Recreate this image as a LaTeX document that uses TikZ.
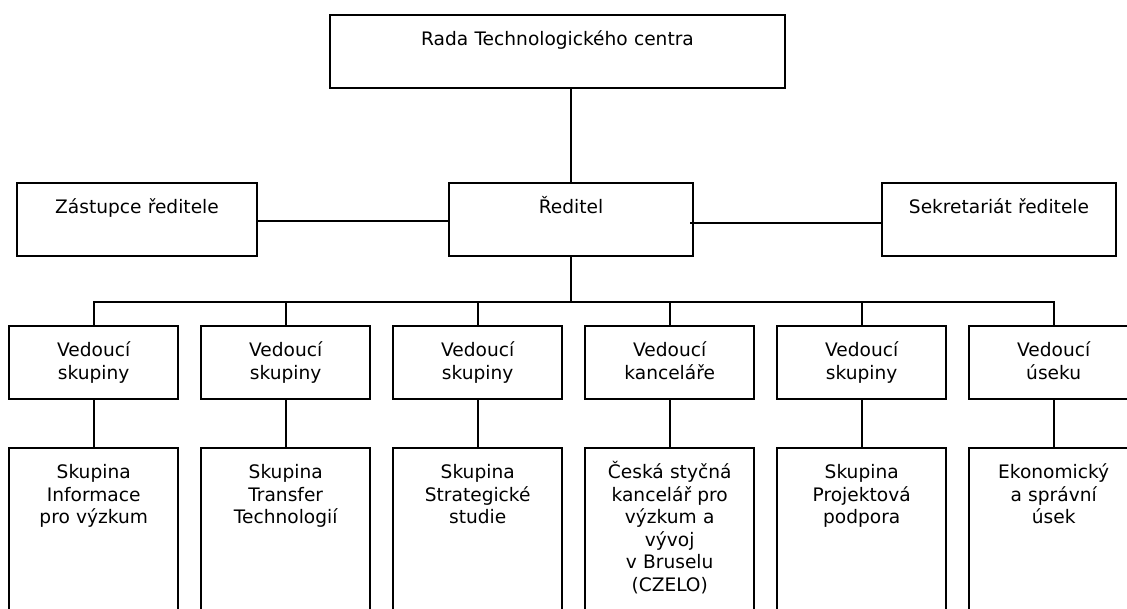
\documentclass[tikz,border=0pt]{standalone}
\usepackage{fontspec}
\setmainfont{DejaVu Sans}
\usetikzlibrary{positioning}
\usetikzlibrary{matrix}

\tikzset{
  unit/.style={draw, line width=2pt, inner sep=0pt, align=center,
    text height=30.5pt, text depth=42.5pt,
    font=\fontsize{18.6pt}{22.5pt}\selectfont},
  lowunit/.style={unit, text depth=200pt},
  link/.style={line width=1.6pt}
}

\begin{document}
\begin{tikzpicture}[x=1pt,y=-1pt]
\path[use as bounding box, clip] (0,0) rectangle (1127,609);
\node [unit, text width=455pt, anchor=north] (rada) at (557.5,14) {Rada Technologického centra};
\node [unit, text width=240pt, anchor=north] (zastupce) at (137,182) {Zástupce ředitele};
\node [unit, text width=244pt, anchor=north] (reditel) at (571,182) {Ředitel};
\node [unit, text width=234pt, anchor=north] (sekretariat) at (999,182) {Sekretariát ředitele};
\coordinate (bus) at (0,302);
\matrix [matrix of nodes, anchor=north west, inner sep=0pt, row sep=47pt,
nodes={unit, text width=169pt},
column sep={192pt,between origins}] at (8,325)
{
|(v1)|{Vedoucí\\skupiny} & |(v2)|{Vedoucí\\skupiny} & |(v3)|{Vedoucí\\skupiny} & |(v4)|{Vedoucí\\kanceláře} & |(v5)|{Vedoucí\\skupiny} & |(v6)|{Vedoucí\\úseku} \\
|[lowunit](s1)|{Skupina\\Informace\\pro výzkum} & |[lowunit](s2)|{Skupina\\Transfer\\Technologií} & |[lowunit](s3)|{Skupina\\Strategické\\studie} & |[lowunit](s4)|{Česká styčná\\kancelář pro\\výzkum a\\vývoj\\v Bruselu\\(CZELO)} & |[lowunit](s5)|{Skupina\\Projektová\\podpora} & |[lowunit](s6)|{Ekonomický\\a správní\\úsek} \\
};
\draw [link] (reditel.north) -- (reditel.north |- rada.south);
\draw [link] ([yshift=-1.5pt]zastupce.east) -- ([yshift=-1.5pt]reditel.west);
\draw [link] ([xshift=-4pt,yshift=-3.5pt]reditel.east) -- ([yshift=-3.5pt]sekretariat.west);
\draw [link] (reditel.south) -- (reditel.south |- bus);
\draw [link] (v1.north) |- (reditel.south |- bus);
\draw [link] (v2.north) |- (reditel.south |- bus);
\draw [link] (v3.north) |- (reditel.south |- bus);
\draw [link] (v4.north) |- (reditel.south |- bus);
\draw [link] (v5.north) |- (reditel.south |- bus);
\draw [link] (v6.north) |- (reditel.south |- bus);
\draw [link] (v1.south) -- (s1.north);
\draw [link] (v2.south) -- (s2.north);
\draw [link] (v3.south) -- (s3.north);
\draw [link] (v4.south) -- (s4.north);
\draw [link] (v5.south) -- (s5.north);
\draw [link] (v6.south) -- (s6.north);
\end{tikzpicture}
\end{document}
